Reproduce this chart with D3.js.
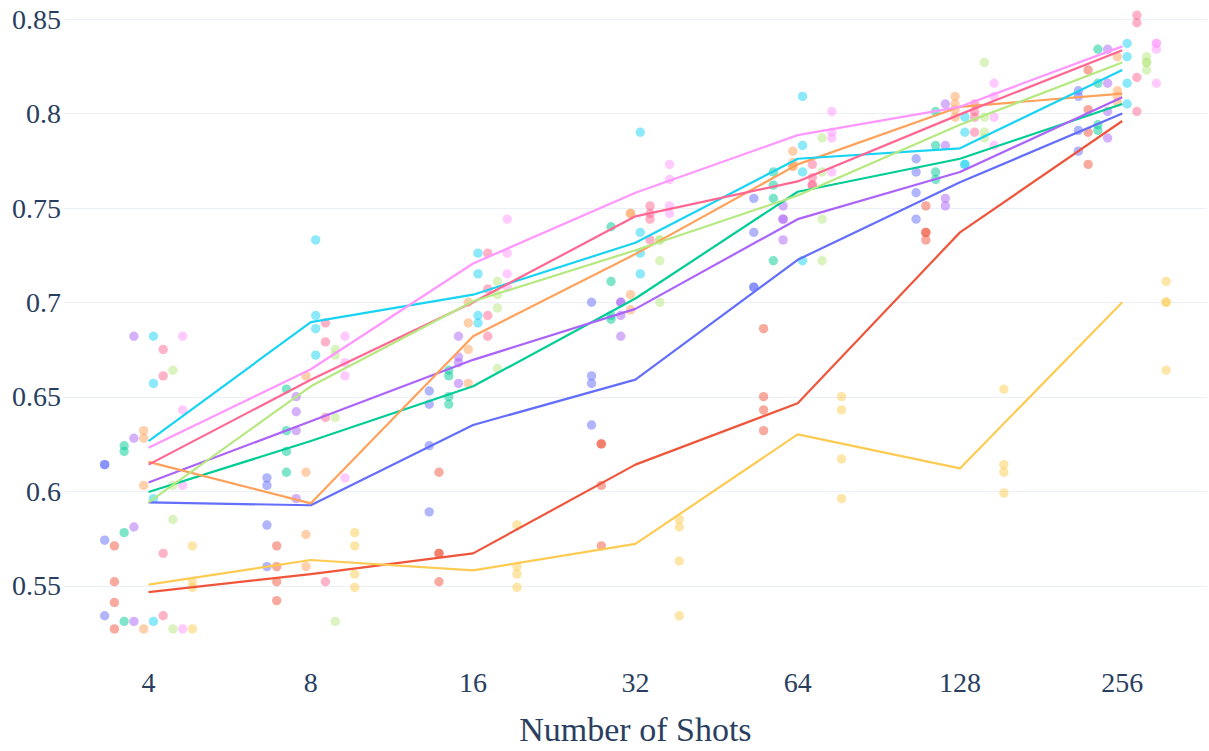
<!DOCTYPE html>
<meta charset="utf-8">
<style>
body { margin: 0; background: #fff; }
svg { display: block; }
.grid line { stroke: #ebf0f8; stroke-width: 1; shape-rendering: crispEdges; }
.runs circle { fill-opacity: 0.5; }
.trend { fill: none; stroke-width: 2.2; stroke-linejoin: round; }
</style>
<body>
<script src="https://cdn.jsdelivr.net/npm/d3@7"></script>
<script>
var shots = ["4", "8", "16", "32", "64", "128", "256"];
var yTicks = [0.55, 0.6, 0.65, 0.7, 0.75, 0.8, 0.85];
var yTickLabels = ["0.55", "0.6", "0.65", "0.7", "0.75", "0.8", "0.85"];
var colors = ["#636efa", "#EF553B", "#00cc96", "#ab63fa", "#FFA15A",
              "#19d3f3", "#FF6692", "#B6E880", "#FF97FF", "#FECB52"];

// four runs per shot count, one list per series
var blueRuns = [[0.614, 0.614, 0.574, 0.534], [0.607, 0.603, 0.582, 0.560], [0.653, 0.646, 0.624, 0.589],
  [0.700, 0.661, 0.657, 0.635], [0.755, 0.737, 0.708, 0.708], [0.776, 0.769, 0.758, 0.744], [0.812, 0.809, 0.791, 0.780]];
var redRuns = [[0.571, 0.552, 0.541, 0.527], [0.571, 0.560, 0.552, 0.542], [0.610, 0.567, 0.567, 0.552],
  [0.625, 0.625, 0.603, 0.571], [0.686, 0.650, 0.643, 0.632], [0.751, 0.737, 0.737, 0.733], [0.823, 0.802, 0.790, 0.773]];
var greenRuns = [[0.624, 0.621, 0.578, 0.531], [0.654, 0.632, 0.621, 0.610], [0.664, 0.661, 0.650, 0.646],
  [0.740, 0.711, 0.693, 0.691], [0.769, 0.762, 0.755, 0.722], [0.801, 0.783, 0.769, 0.765], [0.834, 0.816, 0.794, 0.791]];
var purpleRuns = [[0.682, 0.628, 0.581, 0.531], [0.650, 0.642, 0.632, 0.596], [0.682, 0.671, 0.668, 0.657],
  [0.700, 0.700, 0.693, 0.682], [0.751, 0.744, 0.744, 0.733], [0.805, 0.783, 0.755, 0.751], [0.834, 0.816, 0.801, 0.787]];
var orangeRuns = [[0.632, 0.628, 0.603, 0.527], [0.661, 0.610, 0.577, 0.560], [0.700, 0.689, 0.675, 0.657],
  [0.747, 0.747, 0.704, 0.696], [0.780, 0.774, 0.772, 0.772], [0.809, 0.805, 0.802, 0.798], [0.830, 0.812, 0.809, 0.806]];
var cyanRuns = [[0.682, 0.657, 0.596, 0.531], [0.733, 0.693, 0.686, 0.672], [0.726, 0.715, 0.693, 0.689],
  [0.790, 0.737, 0.726, 0.715], [0.809, 0.783, 0.769, 0.722], [0.798, 0.790, 0.773, 0.773], [0.837, 0.830, 0.816, 0.805]];
var pinkRuns = [[0.675, 0.661, 0.567, 0.534], [0.689, 0.679, 0.639, 0.552], [0.726, 0.707, 0.693, 0.682],
  [0.751, 0.747, 0.744, 0.733], [0.773, 0.766, 0.762, 0.762], [0.805, 0.801, 0.798, 0.790], [0.852, 0.848, 0.819, 0.801]];
var limeRuns = [[0.664, 0.603, 0.585, 0.527], [0.675, 0.672, 0.639, 0.531], [0.711, 0.704, 0.697, 0.665],
  [0.733, 0.733, 0.722, 0.700], [0.787, 0.769, 0.744, 0.722], [0.827, 0.798, 0.790, 0.787], [0.830, 0.827, 0.827, 0.823]];
var magentaRuns = [[0.682, 0.643, 0.603, 0.527], [0.682, 0.668, 0.661, 0.607], [0.744, 0.726, 0.715, 0.708],
  [0.773, 0.765, 0.751, 0.747], [0.801, 0.790, 0.787, 0.769], [0.816, 0.809, 0.798, 0.783], [0.837, 0.837, 0.834, 0.816]];
var yellowRuns = [[0.571, 0.552, 0.549, 0.527], [0.578, 0.571, 0.556, 0.549], [0.582, 0.560, 0.556, 0.549],
  [0.585, 0.581, 0.563, 0.534], [0.650, 0.643, 0.617, 0.596], [0.654, 0.614, 0.610, 0.599], [0.711, 0.700, 0.700, 0.664]];

var allRuns = [blueRuns, redRuns, greenRuns, purpleRuns, orangeRuns,
               cyanRuns, pinkRuns, limeRuns, magentaRuns, yellowRuns];

var width = 1209, height = 751;
var left = 63.5, right = 1207.3;
var serif = "'Liberation Serif', 'Times New Roman', Times, 'DejaVu Serif', serif";

var x = d3.scalePoint().domain(shots).range([left, right]).padding(0.524);
var jitter = d3.scaleBand().domain(d3.range(allRuns.length)).range([-48.75, 48.75]);
var y = d3.scaleLinear().domain([0.55, 0.85]).range([585.5, 19]);

var svg = d3.select("body").append("svg")
    .attr("width", width)
    .attr("height", height);

// horizontal grid
svg.append("g")
    .attr("class", "grid")
    .selectAll("line")
    .data(yTicks)
    .enter().append("line")
    .attr("x1", left)
    .attr("x2", right)
    .attr("y1", function(d) { return Math.round(y(d)) + 0.5; })
    .attr("y2", function(d) { return Math.round(y(d)) + 0.5; });

var labels = svg.append("g")
    .attr("font-family", serif)
    .attr("fill", "#2a3f5f");

// y tick labels
labels.append("g")
    .selectAll("text")
    .data(yTicks)
    .enter().append("text")
    .attr("x", 61)
    .attr("y", function(d) { return y(d); })
    .attr("dy", "0.35em")
    .attr("text-anchor", "end")
    .attr("font-size", 28)
    .text(function(d, i) { return yTickLabels[i]; });

// x tick labels
labels.append("g")
    .selectAll("text")
    .data(shots)
    .enter().append("text")
    .attr("x", function(d) { return x(d); })
    .attr("y", 692)
    .attr("text-anchor", "middle")
    .attr("font-size", 28)
    .text(function(d) { return d; });

labels.append("text")
    .attr("x", (left + right) / 2)
    .attr("y", 741)
    .attr("text-anchor", "middle")
    .attr("font-size", 34)
    .text("Number of Shots");

// individual runs
allRuns.forEach(function(runs, s) {
  var pts = [];
  runs.forEach(function(vals, i) {
    vals.forEach(function(v) { pts.push({shot: shots[i], value: v}); });
  });
  svg.append("g")
      .attr("class", "runs")
      .selectAll("circle")
      .data(pts)
      .enter().append("circle")
      .attr("r", 4.7)
      .attr("cx", function(d) { return x(d.shot) + jitter(s) + jitter.bandwidth() / 2; })
      .attr("cy", function(d) { return y(d.value); })
      .style("fill", colors[s]);
});

// median lines
var line = d3.line()
    .x(function(d) { return x(d.shot); })
    .y(function(d) { return y(d.value); });

allRuns.forEach(function(runs, s) {
  var med = runs.map(function(vals, i) { return {shot: shots[i], value: d3.median(vals)}; });
  svg.append("path")
      .attr("class", "trend")
      .attr("d", line(med))
      .style("stroke", colors[s]);
});
</script>
</body>
